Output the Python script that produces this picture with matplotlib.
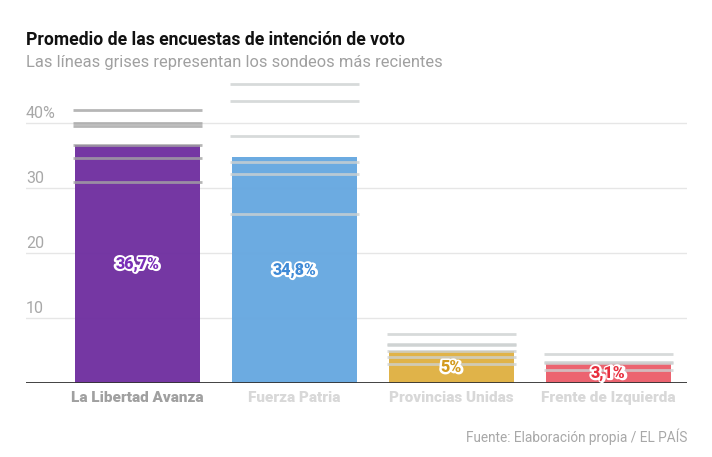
import matplotlib
matplotlib.use("Agg")
import matplotlib.pyplot as plt
import matplotlib.patheffects as pe
import matplotlib.transforms as mtransforms

# ---- data ----
parties = ["La Libertad Avanza", "Fuerza Patria", "Provincias Unidas", "Frente de Izquierda"]
averages = [36.7, 34.8, 5.0, 3.1]
value_labels = ["36,7%", "34,8%", "5%", "3,1%"]
colors = ["#7030a0", "#67a8e0", "#dfb143", "#ec5f6b"]
label_colors = ["#7a2fb8", "#3f8ad6", "#d39b20", "#e8303f"]
polls_lla = [42.0, 40.1, 39.6, 36.6, 34.7, 31.0]
polls_fp = [46.1, 43.4, 38.1, 34.1, 32.2, 26.0]
polls_pu = [7.6, 6.1, 5.9, 4.9, 4.1, 3.0]
polls_fi = [4.5, 3.3, 3.1, 2.0]
polls = [polls_lla, polls_fp, polls_pu, polls_fi]
yticks = [10, 20, 30, 40]
ytick_labels = ["10", "20", "30", "40%"]
title = "Promedio de las encuestas de intención de voto"
subtitle = "Las líneas grises representan los sondeos más recientes"
source = "Fuente: Elaboración propia / EL PAÍS"

plt.rcParams['font.family'] = ['Roboto', 'DejaVu Sans']

fig = plt.figure(figsize=(7.12, 4.57), dpi=100)
ax = fig.add_axes([26/712, (457-383.3)/457, (687-26)/712, 47*6.5/457])
ax.set_xlim(-0.71, 3.5)
ax.set_ylim(0, 47)

x = list(range(len(parties)))
bar_w = 0.796
line_w = 0.822

for yt in yticks:
    ax.axhline(yt, color="#e6e6e6", lw=1, zorder=0)

ax.bar(x, averages, width=bar_w, color=colors, zorder=2, alpha=0.97)

for i, vals in enumerate(polls):
    c = "#a4a4a4" if i == 0 else "#cdd1d1"
    for v in vals:
        ax.hlines(v, i - line_w/2, i + line_w/2, color=c, lw=2.0, alpha=0.8, zorder=3)

for i, (v, lab) in enumerate(zip(averages, value_labels)):
    ax.text(i, v/2, lab, ha="center", va="center", fontsize=11.5, fontweight="black",
            color="white", zorder=5,
            path_effects=[pe.withStroke(linewidth=3.2, foreground="white")])
    ax.text(i, v/2, lab, ha="center", va="center", fontsize=11.5, fontweight="black",
            color=label_colors[i], zorder=6)

ax.axhline(0, color="#333333", lw=1.3, zorder=4)

# y tick labels above gridlines
for yt, lab in zip(yticks, ytick_labels):
    tr = mtransforms.offset_copy(ax.get_yaxis_transform(), fig=fig, x=0, y=1.5, units="points")
    ax.text(0, yt, lab, transform=tr, ha="left", va="bottom", fontsize=11.5, color="#a8a8a8")

# category labels
for i, p in enumerate(parties):
    c = "#a0a0a0" if i == 0 else "#d8d8d8"
    tr = mtransforms.offset_copy(ax.get_xaxis_transform(), fig=fig, x=0, y=-10.5, units="points")
    ax.text(i, 0, p, transform=tr, ha="center", va="center", fontsize=11,
            fontweight="black", color=c)

for s in ax.spines.values():
    s.set_visible(False)
ax.set_xticks([])
ax.set_yticks([])

fig.text(26/712, 1 - 40/457, title, ha="left", va="center", fontsize=12.7,
         fontweight="bold", color="#111111")
fig.text(26/712, 1 - 62/457, subtitle, ha="left", va="center", fontsize=11.9,
         color="#a0a0a0")
fig.text(687/712, 1 - 437/457, source, ha="right", va="center", fontsize=9.8,
         color="#a8a8a8")

fig.savefig("out.png", dpi=100)
